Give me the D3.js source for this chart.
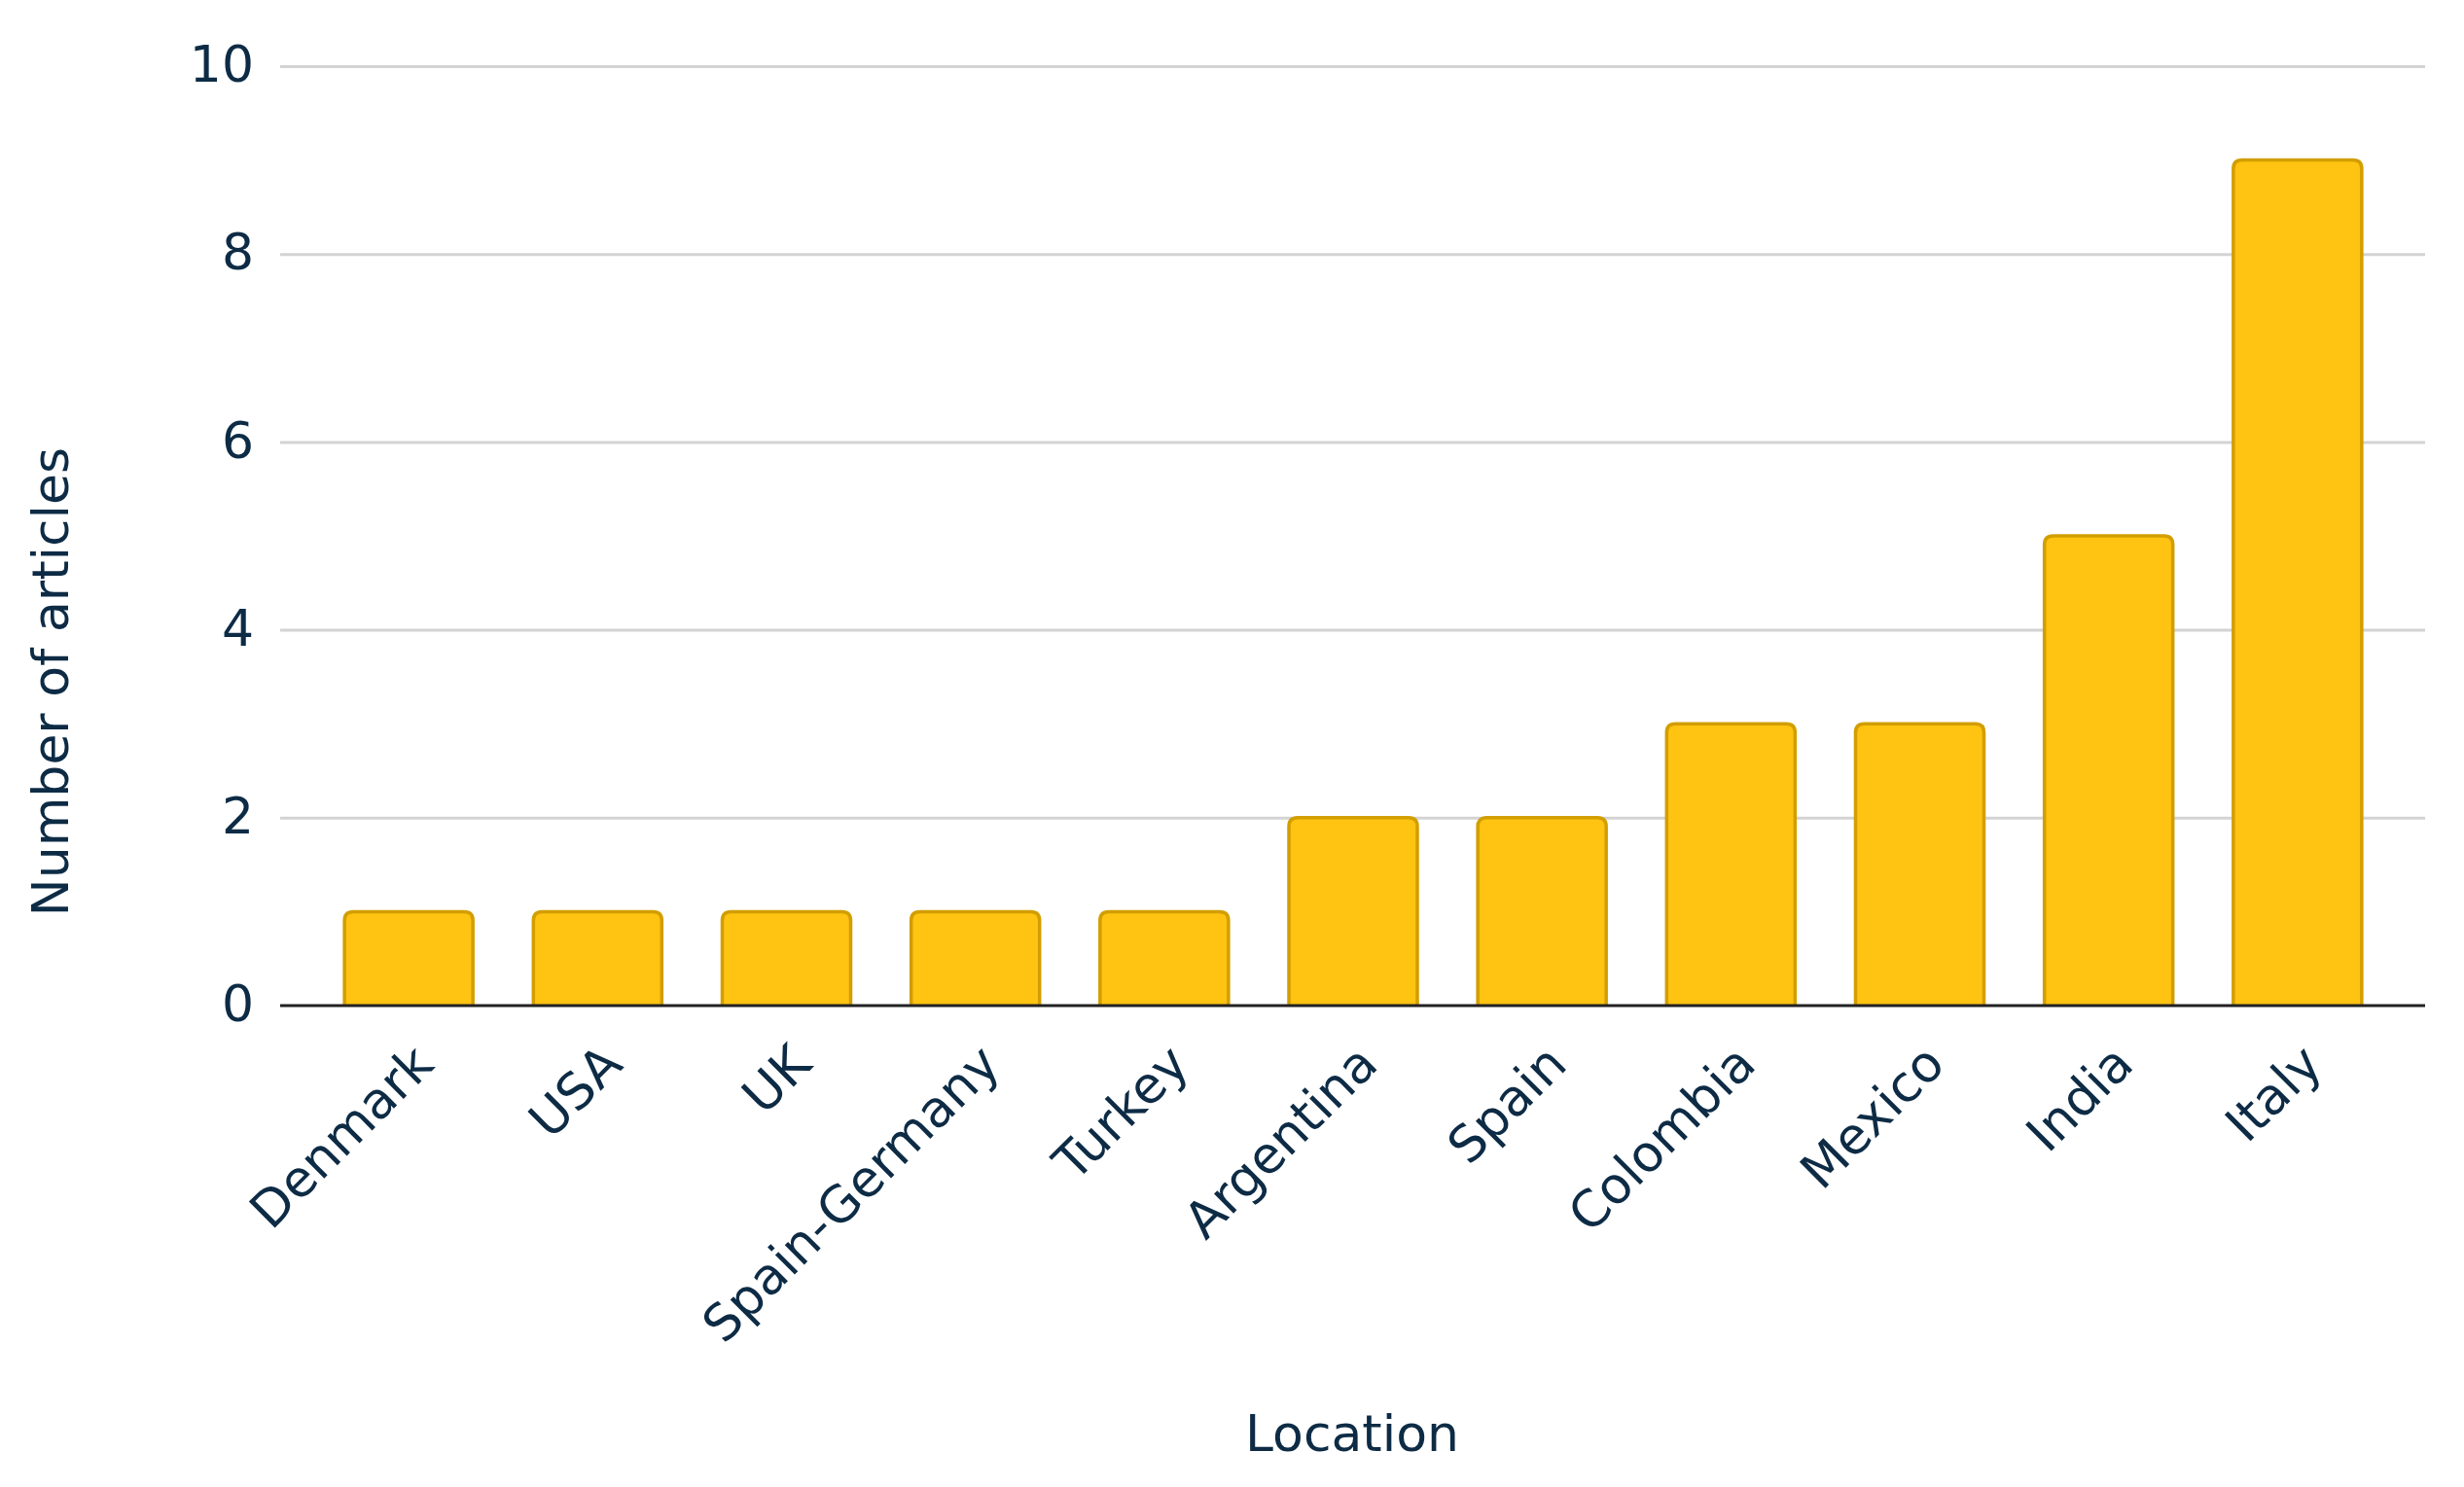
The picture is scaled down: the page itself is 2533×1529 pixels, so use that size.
<!DOCTYPE html>
<html>
<head>
<meta charset="utf-8">
<script src="https://cdn.jsdelivr.net/npm/d3@7"></script>
<style>
  body { margin: 0; background: #fff; }
  text { font-family: "DejaVu Sans", Verdana, sans-serif; fill: #0d2b45; }
</style>
</head>
<body>
<div id="chartArea"></div>
<script>
var locations = ["Denmark", "USA", "UK", "Spain-Germany", "Turkey", "Argentina", "Spain", "Colombia", "Mexico", "India", "Italy"];
var articles = [1, 1, 1, 1, 1, 2, 2, 3, 3, 5, 9];
var yTicks = [0, 2, 4, 6, 8, 10];

var data = locations.map(function (d, i) {
  return { "location": d, "count": articles[i] };
});

var margin = { top: 68, right: 40, bottom: 495, left: 288 },
  width = 2533 - margin.left - margin.right,
  height = 1529 - margin.top - margin.bottom;

var x = d3.scaleBand()
  .domain(locations)
  .range([4, width - 3])
  .paddingInner(0.32)
  .paddingOuter(0.32);

var y = d3.scaleLinear()
  .domain([0, 10])
  .range([height, 0]);

var svg = d3.select("#chartArea").append("svg")
  .attr("width", 2533)
  .attr("height", 1529)
  .append("g")
  .attr("transform", "translate(" + margin.left + "," + margin.top + ")");

// grid lines
svg.append("g")
  .attr("class", "grid")
  .call(d3.axisLeft(y).tickValues(yTicks.slice(1)).tickSize(-width).tickFormat(""))
  .call(function (g) {
    g.select(".domain").remove();
    g.selectAll("line").attr("stroke", "#d3d3d3").attr("stroke-width", 3);
  });

// y tick labels
svg.append("g")
  .attr("class", "y axis")
  .call(d3.axisLeft(y).tickValues(yTicks).tickSize(0).tickPadding(27))
  .call(function (g) {
    g.select(".domain").remove();
    g.selectAll("text")
      .style("font-size", "52px")
      .attr("font-family", null)
      .attr("dy", "0.3em");
  });

// bars with rounded top corners
var r = 9;
svg.selectAll(".bar1")
  .data(data)
  .enter().append("path")
  .attr("class", "bar1")
  .attr("d", function (d) {
    var x0 = x(d.location), x1 = x0 + x.bandwidth(), y0 = y(0), y1 = y(d.count);
    return "M" + x0 + "," + y0 +
      "V" + (y1 + r) +
      "Q" + x0 + "," + y1 + " " + (x0 + r) + "," + y1 +
      "H" + (x1 - r) +
      "Q" + x1 + "," + y1 + " " + x1 + "," + (y1 + r) +
      "V" + y0;
  })
  .style("fill", "#ffc312")
  .attr("stroke", "#d29e00")
  .attr("stroke-width", 3.5);

// x axis baseline and labels
svg.append("g")
  .attr("class", "x axis")
  .attr("transform", "translate(0," + height + ")")
  .call(d3.axisBottom(x).tickSize(0).tickSizeOuter(0))
  .call(function (g) {
    g.select(".domain").attr("d", "M0,0H" + width).attr("stroke", "#222").attr("stroke-width", 3);
    g.selectAll("text")
      .style("font-size", "52px")
      .attr("font-family", null)
      .style("text-anchor", "end")
      .attr("y", 0)
      .attr("dy", "0.35em")
      .attr("transform", "translate(15,50) rotate(-45)");
  });

svg.append("text")
  .attr("transform", "rotate(-90)")
  .attr("x", 0 - (701 - margin.top))
  .attr("y", 70 - margin.left)
  .style("text-anchor", "middle")
  .style("font-size", "52px")
  .text("Number of articles");

svg.append("text")
  .attr("x", 1390 - margin.left)
  .attr("y", 1492 - margin.top)
  .style("text-anchor", "middle")
  .style("font-size", "52px")
  .text("Location");
</script>
</body>
</html>
